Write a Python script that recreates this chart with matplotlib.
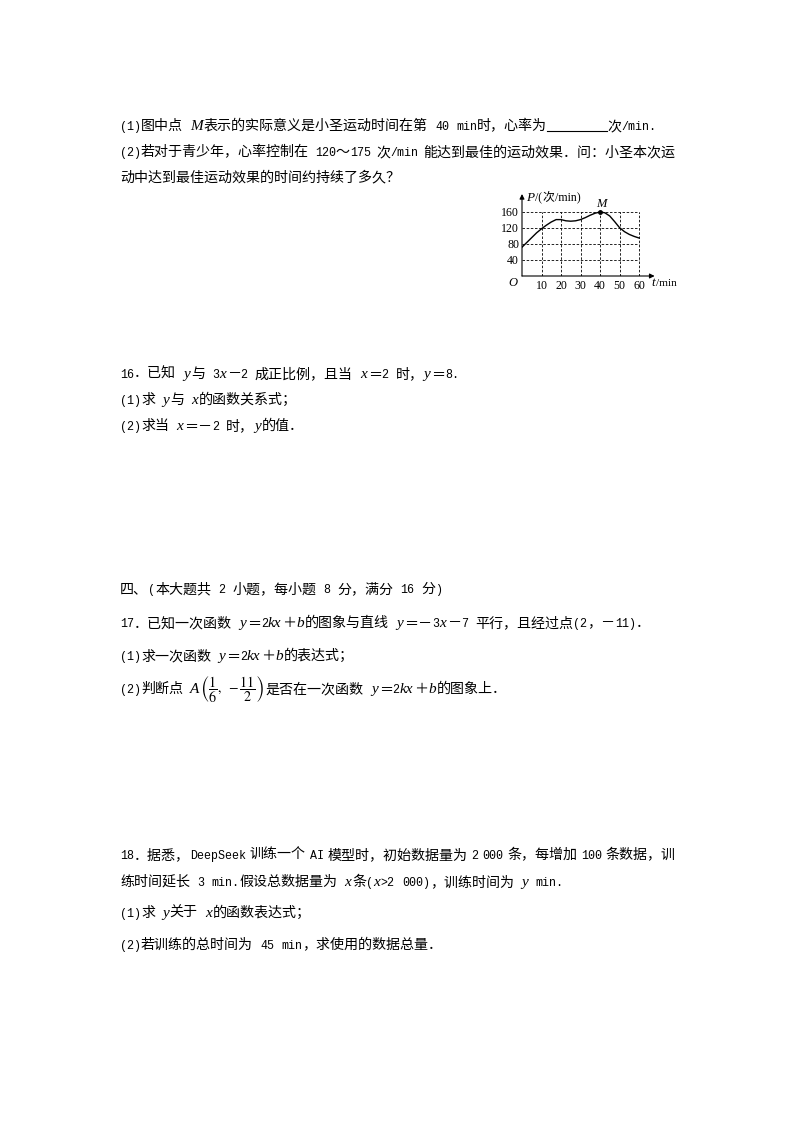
import re
import matplotlib
matplotlib.use('Agg')
import matplotlib.pyplot as plt

plt.rcParams['mathtext.fontset'] = 'stix'

W, H = 794, 1123

# 心率曲线
t_vals = [0, 2.5, 5, 7.5, 10, 12.5, 15, 17.5, 20, 22.5, 25, 27.5, 30,
          32.5, 35, 37.5, 40, 42.5, 45, 47.5, 50, 52.5, 55, 57.5, 60]
p_vals = [72, 84, 96, 108, 118, 127, 135, 141, 141, 138, 137, 138, 141,
          146, 152, 157, 160, 158, 150, 136, 121, 111, 104, 99, 95]
x_ticks = [10, 20, 30, 40, 50, 60]
y_ticks = [40, 80, 120, 160]
point_m = (40, 160)

# 题目文字  {..} 斜体, $..$ 数式, [n] 填空横线 ; 第三项: 两端对齐的右端
lines = [
    (125, "(1)图中点 {M}表示的实际意义是小圣运动时间在第 40 min时，心率为[60]次/min.", None),
    (151, "(2)若对于青少年，心率控制在 120～175 次/min 能达到最佳的运动效果．问：小圣本次运", 676),
    (176, "动中达到最佳运动效果的时间约持续了多久？", None),
    (373, "16．已知 {y}与 3{x}－2 成正比例，且当 {x}＝2 时，{y}＝8.", None),
    (399, "(1)求 {y}与 {x}的函数关系式；", None),
    (425, "(2)求当 {x}＝－2 时，{y}的值．", None),
    (588, "四、(本大题共 2 小题，每小题 8 分，满分 16 分)", None),
    (622, "17．已知一次函数 {y}＝2{kx}＋{b}的图象与直线 {y}＝－3{x}－7 平行，且经过点(2，－11)．", None),
    (655, "(1)求一次函数 {y}＝2{kx}＋{b}的表达式；", None),
    (688, r"(2)判断点 {A}$\left(\dfrac{1}{6},\ -\dfrac{11}{2}\right)$是否在一次函数 {y}＝2{kx}＋{b}的图象上．", None),
    (854, "18．据悉，DeepSeek 训练一个 AI 模型时，初始数据量为 2 000 条，每增加 100 条数据，训", 676),
    (881, "练时间延长 3 min.假设总数据量为 {x}条({x}>2 000)，训练时间为 {y} min.", None),
    (912, "(1)求 {y}关于 {x}的函数表达式；", None),
    (944, "(2)若训练的总时间为 45 min，求使用的数据总量．", None),
]

fig = plt.figure(figsize=(W / 100, H / 100), dpi=100)
fig.patch.set_facecolor('white')
renderer = fig.canvas.get_renderer()

CJK = ['Noto Sans CJK SC', 'DejaVu Sans']


def put(xp, yp, s, **kw):
    return fig.text(xp / W, 1 - yp / H, s, **kw)


def draw_line(x, y, line, size=10.1, isize=11, asize=8.4, chart=False, space=None):
    parts = re.split(r'(\{[^}]*\}|\$[^$]*\$|\[\d+\])', line)
    base = y + 5
    em = size * 100 / 72
    adv = asize * 100 / 72 * 0.6
    if space is None:
        space = 2.5 if chart else adv
    arts = []
    nsp = 0
    for p in parts:
        if not p:
            continue
        if p.startswith('[') and p.endswith(']'):
            w = int(p[1:-1])
            ln = plt.Line2D([x / W, (x + w) / W], [1 - (base + 1) / H] * 2, color='k', lw=0.8)
            fig.add_artist(ln)
            arts.append(ln)
            x += w
            continue
        if p.startswith('{'):
            t = put(x, base, p[1:-1], ha='left', va='baseline',
                    family=['Liberation Serif'], style='italic', fontsize=isize)
            arts.append(t)
            x += t.get_window_extent(renderer).width + 1
            continue
        if p.startswith('$'):
            t = put(x, base, p, ha='left', va='baseline', fontsize=size)
            arts.append(t)
            x += t.get_window_extent(renderer).width + 1
            continue
        for sub in re.split(r'([\x20-\x7e]+)', p):
            if not sub:
                continue
            if re.fullmatch(r'[\x20-\x7e]+', sub):
                # 空格单独计宽
                for tok in re.split(r'( +)', sub):
                    if not tok:
                        continue
                    if tok.startswith(' '):
                        x += len(tok) * space
                        nsp += len(tok)
                    elif chart:
                        t = put(x, base, tok, ha='left', va='baseline',
                                family=['Liberation Serif'], fontsize=asize)
                        arts.append(t)
                        x += t.get_window_extent(renderer).width + 0.5
                    else:
                        t = put(x, base, tok, ha='left', va='baseline',
                                family=['Liberation Mono'], fontsize=asize)
                        arts.append(t)
                        x += len(tok) * adv
            else:
                t = put(x, base, sub, ha='left', va='baseline', family=CJK, fontsize=size)
                arts.append(t)
                x += len(sub) * em
    return x, arts, nsp, space


for y, line, right in lines:
    end, arts, nsp, sp = draw_line(120, y, line)
    if right is not None and nsp:
        for a in arts:
            a.remove()
        draw_line(120, y, line, space=sp + (right - end) / nsp)

# 图
ox, oy = 522, 276
sx, sy = 1.95, 0.4
ax = fig.add_axes([ox / W, 1 - oy / H, 68 * sx / W, 205 * sy / H])
ax.set_xlim(0, 68)
ax.set_ylim(0, 205)
ax.axis('off')

for tv in x_ticks:
    ax.plot([tv, tv], [0, 160], color='k', lw=0.6, ls=(0, (3, 2)))
for pv in y_ticks:
    ax.plot([0, 60], [pv, pv], color='k', lw=0.6, ls=(0, (3, 2)))

ax.plot(t_vals, p_vals, color='k', lw=1.0)
ax.plot(*point_m, 'ko', ms=2.5)

arrow = dict(arrowstyle='-|>', lw=0.8, color='k', mutation_scale=7, shrinkA=0, shrinkB=0)
ax.annotate('', xy=(68, 0), xytext=(0, 0), arrowprops=arrow, annotation_clip=False)
ax.annotate('', xy=(0, 205), xytext=(0, 0), arrowprops=arrow, annotation_clip=False)

for tv in x_ticks:
    put(ox + tv * sx, oy + 13, str(tv), ha='center', va='baseline',
        family='Liberation Serif', fontsize=8.6)
for pv in y_ticks:
    put(ox - 3, oy - pv * sy + 3.5, str(pv), ha='right', va='baseline',
        family='Liberation Serif', fontsize=8.6)
put(ox - 5, oy + 10, 'O', ha='right', va='baseline', family='Liberation Serif',
    style='italic', fontsize=9)
put(ox + 40 * sx + 1, oy - 160 * sy - 5, 'M', ha='center', va='baseline',
    family='Liberation Serif', style='italic', fontsize=9)

draw_line(526, 196, "{P}/(次/min)", size=8.6, isize=9.5, asize=8.6, chart=True)
draw_line(651, 281, "{t}/min", size=8.6, isize=9.5, asize=8.2, chart=True)

fig.savefig('out.png', dpi=100)
